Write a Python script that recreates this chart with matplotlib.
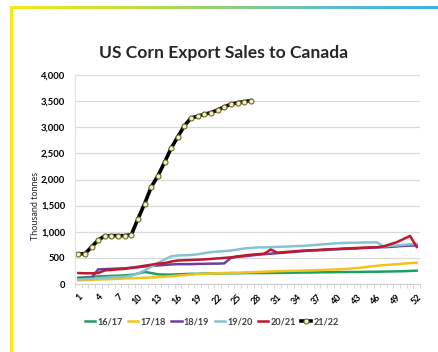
import matplotlib.pyplot as plt
import numpy as np
from matplotlib.colors import LinearSegmentedColormap

plt.rcParams['font.family'] = ['Lato', 'DejaVu Sans']

weeks = list(range(1, 53))
tick_weeks = list(range(1, 53, 3))

s1617 = [120, 125, 135, 145, 150, 155, 160, 165, 175, 200,
         230, 210, 185, 180, 180, 185, 190, 195, 195, 200,
         200, 200, 205, 205, 205, 210, 210, 210, 210, 212,
         212, 215, 215, 218, 220, 220, 222, 225, 225, 228,
         228, 230, 230, 232, 235, 235, 238, 240, 242, 245, 250, 255]
s1718 = [70, 75, 80, 85, 90, 95, 100, 105, 110, 115,
         120, 125, 130, 140, 150, 160, 170, 180, 190, 195,
         200, 205, 210, 215, 215, 220, 225, 230, 235, 240,
         245, 248, 252, 255, 258, 262, 266, 270, 275, 280,
         285, 295, 305, 320, 335, 350, 360, 370, 380, 390, 400, 408]
s1819 = [110, 115, 120, 280, 285, 290, 295, 300, 310, 320,
         335, 345, 355, 365, 375, 380, 380, 380, 385, 385,
         390, 390, 395, 500, 520, 530, 545, 560, 570, 580,
         590, 600, 610, 620, 630, 640, 645, 650, 660, 665,
         670, 675, 680, 690, 695, 700, 705, 710, 720, 730, 735, 740]
s1920 = [90, 95, 100, 110, 120, 130, 135, 140, 160, 200,
         260, 330, 400, 470, 530, 545, 550, 555, 570, 590,
         610, 620, 630, 640, 660, 680, 690, 700, 700, 705,
         710, 715, 720, 725, 730, 740, 750, 760, 770, 780,
         785, 790, 790, 795, 795, 800, 720, 730, 740, 750, 760, 770]
s2021 = [210, 205, 205, 210, 260, 270, 280, 290, 310, 330,
         350, 370, 390, 400, 430, 450, 455, 460, 465, 470,
         480, 490, 500, 510, 530, 545, 560, 570, 580, 660,
         600, 610, 620, 630, 640, 645, 650, 660, 665, 670,
         680, 685, 690, 695, 700, 705, 720, 760, 800, 860, 920, 710]
s2122 = [575, 580, 710, 840, 920, 925, 925, 925, 945, 1250,
         1540, 1860, 2070, 2330, 2600, 2820, 3030, 3180, 3210, 3250,
         3280, 3330, 3390, 3440, 3470, 3490, 3510]

series = [
    ("16/17", s1617, "#1f9e62"),
    ("17/18", s1718, "#f3c21b"),
    ("18/19", s1819, "#6b3fa0"),
    ("19/20", s1920, "#86c3d0"),
    ("20/21", s2021, "#c0182f"),
]

fig = plt.figure(figsize=(4.39, 3.52), dpi=100)

# border: yellow left edge, gradient strip along the top
fig.add_artist(plt.Line2D([11 / 439, 11 / 439], [0, 1 - 7 / 352],
                          transform=fig.transFigure, color="#f4e91c", lw=2.2))
grad_ax = fig.add_axes([11 / 439, 1 - 9 / 352, 1 - 11 / 439, 3 / 352])
cmap = LinearSegmentedColormap.from_list(
    "band", ["#f4e91c", "#c9df3a", "#8fcf7a", "#5cbcd0", "#3fb0e4"])
grad_ax.imshow(np.linspace(0, 1, 256)[None, :], aspect="auto", cmap=cmap)
grad_ax.axis("off")

ax = fig.add_axes([75 / 439, 68 / 352, 345 / 439, 209 / 352])

for name, vals, col in series:
    ax.plot(weeks[:len(vals)], vals, color=col, lw=1.8, label=name)
ax.plot(weeks[:len(s2122)], s2122, color="black", lw=2.6, marker="o",
        markersize=3.6, markerfacecolor="#f3f0c8", markeredgecolor="#6e6a2c",
        markeredgewidth=0.8, label="21/22")

ax.set_xlim(0.5, 52.5)
ax.set_ylim(0, 4000)
ax.set_yticks(range(0, 4001, 500))
ax.set_yticklabels([f"{v:,}" for v in range(0, 4001, 500)],
                   fontsize=6.8, fontweight="bold")
ax.set_xticks(tick_weeks)
ax.set_xticklabels([str(w) for w in tick_weeks], rotation=45, ha="right",
                   va="top", fontsize=6.5, fontweight="bold",
                   rotation_mode="anchor")
ax.set_xticks(np.arange(0.5, 53, 1), minor=True)
ax.tick_params(axis="x", which="major", length=0, pad=6)
ax.tick_params(axis="x", which="minor", length=3, color="#d0d0d0", width=0.6)
ax.tick_params(axis="y", length=0, pad=7)

ax.grid(axis="y", color="#d9d9d9", lw=0.9)
ax.set_axisbelow(True)
for side in ["top", "right"]:
    ax.spines[side].set_visible(False)
ax.spines["left"].set_color("#e0e0e0")
ax.spines["bottom"].set_color("#d0d0d0")

fig.text(35 / 439, 1 - 206 / 352, "Thousand tonnes", rotation=90,
         ha="center", va="center", fontsize=6.5, color="#262626")
fig.text(224 / 439, 1 - 53 / 352, "US Corn Export Sales to Canada",
         ha="center", va="center", fontsize=12.6, fontweight="bold",
         color="#262626")

handles, labels = ax.get_legend_handles_labels()
fig.legend(handles, labels, loc="center", ncol=6,
           bbox_to_anchor=(212 / 439, 1 - 322 / 352), frameon=False,
           handlelength=1.1, handletextpad=0.25,
           columnspacing=0.6, prop={"weight": "bold", "size": 6.6})
for t in fig.legends[0].get_texts():
    t.set_color("#404040")

fig.savefig("out.png", dpi=100)
